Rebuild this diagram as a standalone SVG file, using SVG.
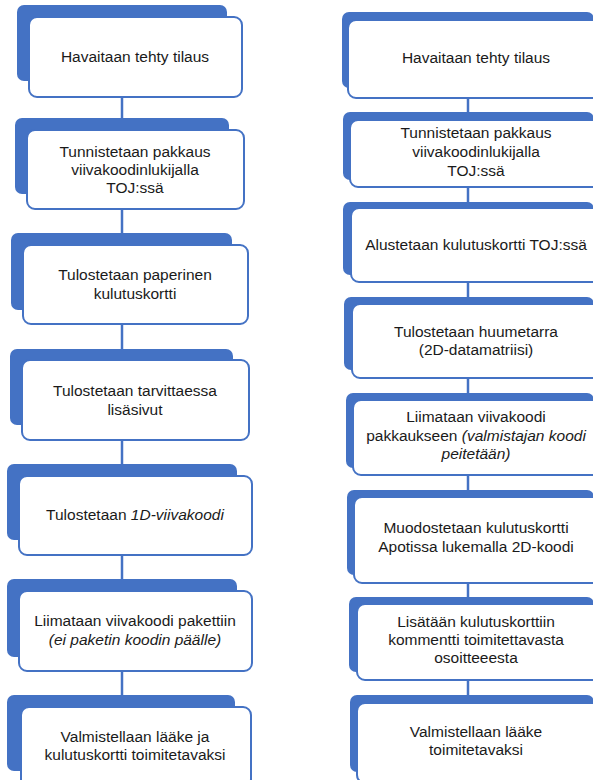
<svg xmlns="http://www.w3.org/2000/svg" width="593" height="780" viewBox="0 0 593 780">
<style>
.bk{fill:#4472C4;stroke:none}
.fr{fill:#FFFFFF;stroke:#4472C4;stroke-width:2}
.cn{stroke:#4472C4;stroke-width:2.5;fill:none}
text{font-family:"Liberation Sans",Arial,sans-serif;font-size:15.5px;fill:#1a1a1a;text-anchor:middle}
.it{font-style:italic}
</style>
<rect width="593" height="780" fill="#FFFFFF"/>
<g id="connectors">
<line class="cn" x1="122" y1="97" x2="122" y2="118"/>
<line class="cn" x1="122" y1="209" x2="122" y2="233"/>
<line class="cn" x1="122" y1="324" x2="122" y2="349"/>
<line class="cn" x1="122" y1="440" x2="122" y2="464"/>
<line class="cn" x1="122" y1="555" x2="122" y2="579"/>
<line class="cn" x1="122" y1="671" x2="122" y2="695"/>
<line class="cn" x1="468" y1="98" x2="468" y2="112"/>
<line class="cn" x1="468" y1="187" x2="468" y2="202"/>
<line class="cn" x1="468" y1="282" x2="468" y2="297"/>
<line class="cn" x1="468" y1="378" x2="468" y2="393"/>
<line class="cn" x1="468" y1="475" x2="468" y2="490"/>
<line class="cn" x1="468" y1="583" x2="468" y2="597"/>
<line class="cn" x1="468" y1="680" x2="468" y2="695"/>
</g>
<g id="L1">
<rect class="bk" x="17" y="5" width="210" height="76" rx="7"/>
<rect class="fr" x="29" y="17" width="213" height="80" rx="8"/>
<text x="135" y="62">Havaitaan tehty tilaus</text>
</g>
<g id="L2">
<rect class="bk" x="15" y="118" width="214" height="76" rx="7"/>
<rect class="fr" x="27" y="130" width="217" height="79" rx="8"/>
<text x="135" y="157">Tunnistetaan pakkaus</text>
<text x="135" y="175">viivakoodinlukijalla</text>
<text x="135" y="193">TOJ:ssä</text>
</g>
<g id="L3">
<rect class="bk" x="11" y="233" width="221" height="77" rx="7"/>
<rect class="fr" x="23" y="245" width="225" height="79" rx="8"/>
<text x="135" y="280">Tulostetaan paperinen</text>
<text x="135" y="299">kulutuskortti</text>
</g>
<g id="L4">
<rect class="bk" x="10" y="349" width="223" height="76" rx="7"/>
<rect class="fr" x="22" y="360" width="227" height="80" rx="8"/>
<text x="135" y="396">Tulostetaan tarvittaessa</text>
<text x="135" y="415">lisäsivut</text>
</g>
<g id="L5">
<rect class="bk" x="7" y="464" width="230" height="76" rx="7"/>
<rect class="fr" x="19" y="476" width="233" height="79" rx="8"/>
<text x="135" y="520">Tulostetaan <tspan class="it">1D-viivakoodi</tspan></text>
</g>
<g id="L6">
<rect class="bk" x="7" y="579" width="230" height="78" rx="7"/>
<rect class="fr" x="19" y="591" width="233" height="80" rx="8"/>
<text x="135" y="626">Liimataan viivakoodi pakettiin</text>
<text x="135" y="645" class="it">(ei paketin koodin päälle)</text>
</g>
<g id="L7">
<rect class="bk" x="7" y="695" width="228" height="76" rx="7"/>
<rect class="fr" x="21" y="707" width="230" height="80" rx="8"/>
<text x="135" y="742">Valmistellaan lääke ja</text>
<text x="135" y="760">kulutuskortti toimitetavaksi</text>
</g>
<g id="R1">
<rect class="bk" x="342" y="12" width="252" height="76" rx="7"/>
<rect class="fr" x="348" y="20" width="258" height="78" rx="8"/>
<text x="476" y="63">Havaitaan tehty tilaus</text>
</g>
<g id="R2">
<rect class="bk" x="343" y="112" width="251" height="68" rx="7"/>
<rect class="fr" x="350" y="120" width="256" height="67" rx="8"/>
<text x="476" y="138">Tunnistetaan pakkaus</text>
<text x="476" y="157">viivakoodinlukijalla</text>
<text x="476" y="176">TOJ:ssä</text>
</g>
<g id="R3">
<rect class="bk" x="343" y="202" width="251" height="73" rx="7"/>
<rect class="fr" x="351" y="208" width="255" height="74" rx="8"/>
<text x="476" y="250">Alustetaan kulutuskortti TOJ:ssä</text>
</g>
<g id="R4">
<rect class="bk" x="344" y="297" width="250" height="73" rx="7"/>
<rect class="fr" x="352" y="304" width="254" height="74" rx="8"/>
<text x="476" y="337">Tulostetaan huumetarra</text>
<text x="476" y="355">(2D-datamatriisi)</text>
</g>
<g id="R5">
<rect class="bk" x="346" y="393" width="248" height="75" rx="7"/>
<rect class="fr" x="353" y="400" width="253" height="75" rx="8"/>
<text x="476" y="422">Liimataan viivakoodi</text>
<text x="476" y="441">pakkaukseen <tspan class="it">(valmistajan koodi</tspan></text>
<text x="476" y="459" class="it">peitetään)</text>
</g>
<g id="R6">
<rect class="bk" x="347" y="490" width="247" height="85" rx="7"/>
<rect class="fr" x="354" y="497" width="252" height="86" rx="8"/>
<text x="476" y="533">Muodostetaan kulutuskortti</text>
<text x="476" y="552">Apotissa lukemalla 2D-koodi</text>
</g>
<g id="R7">
<rect class="bk" x="349" y="597" width="245" height="75" rx="7"/>
<rect class="fr" x="357" y="604" width="249" height="76" rx="8"/>
<text x="476" y="627">Lisätään kulutuskorttiin</text>
<text x="476" y="645">kommentti toimitettavasta</text>
<text x="476" y="663">osoitteeesta</text>
</g>
<g id="R8">
<rect class="bk" x="350" y="695" width="244" height="77" rx="7"/>
<rect class="fr" x="357" y="703" width="249" height="80" rx="8"/>
<text x="476" y="737">Valmistellaan lääke</text>
<text x="476" y="755">toimitetavaksi</text>
</g>
</svg>
